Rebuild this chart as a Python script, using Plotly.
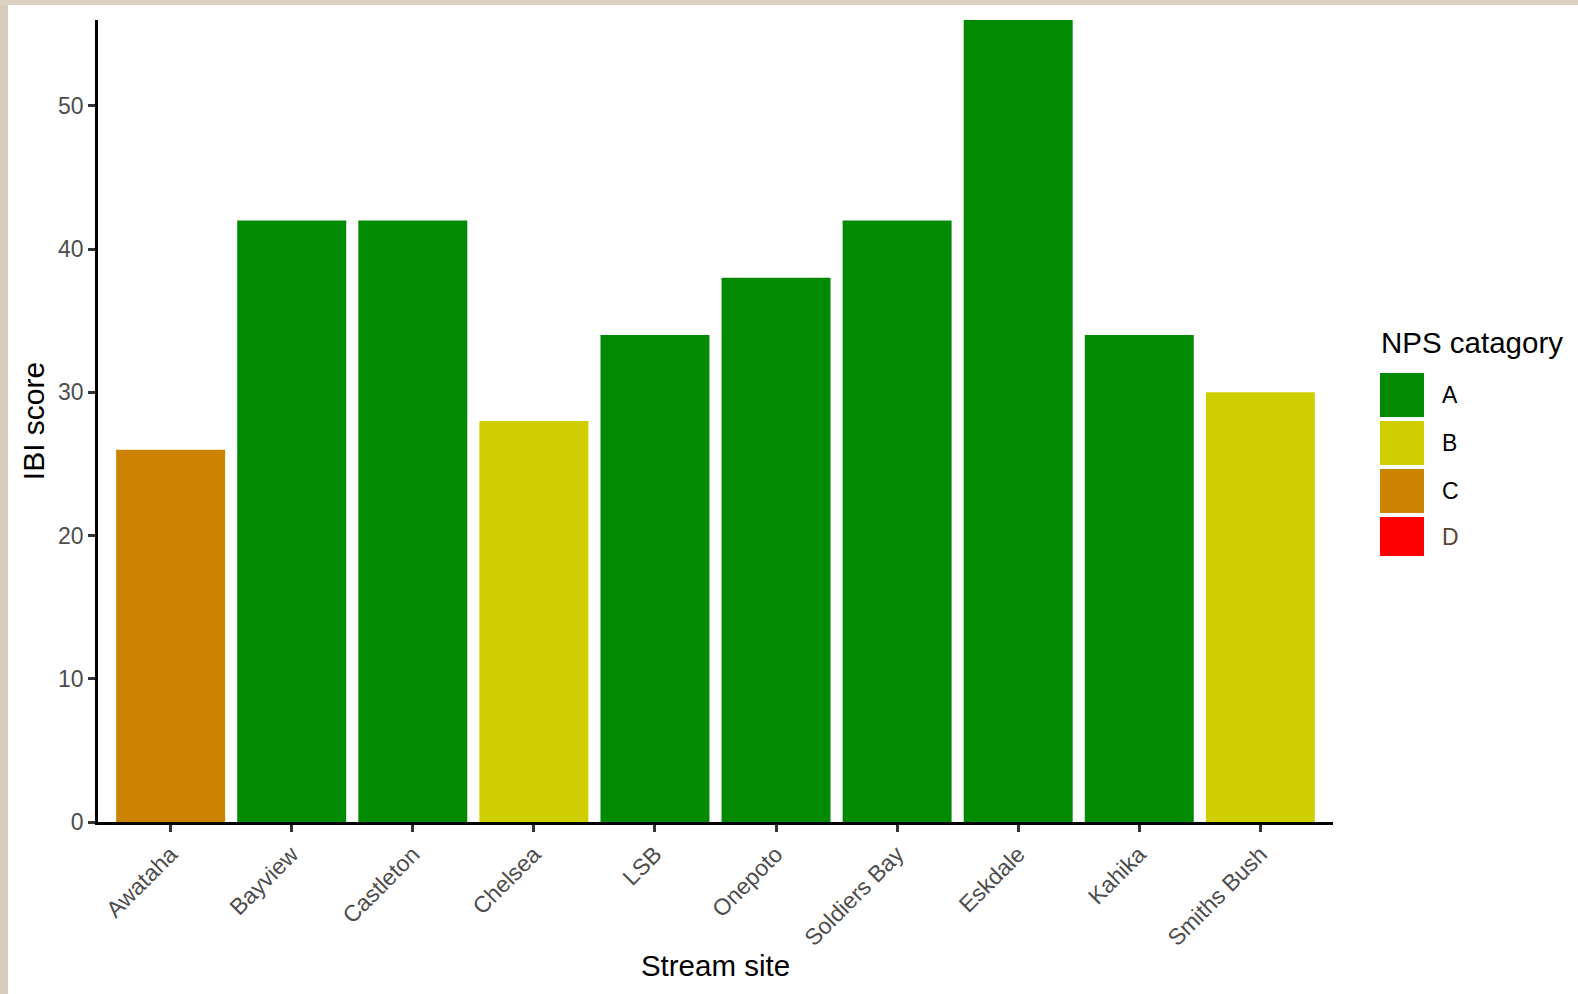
import plotly.graph_objects as go

sites = ["Awataha", "Bayview", "Castleton", "Chelsea", "LSB", "Onepoto",
         "Soldiers Bay", "Eskdale", "Kahika", "Smiths Bush"]
ibi_scores = [26, 42, 42, 28, 34, 38, 42, 56, 34, 30]
nps_category = ["C", "A", "A", "B", "A", "A", "A", "A", "A", "B"]
legend_levels = ["A", "B", "C", "D"]
level_colors = {"A": "#028A02", "B": "#CFCF00", "C": "#CC8400", "D": "#FF0000"}
y_ticks = [0, 10, 20, 30, 40, 50]

FONT = "Liberation Sans, Arial, sans-serif"
W, H = 1578, 994
L, R, T, B = 98, 245, 20, 172
PW = W - L - R
PH = H - T - B


def px(x):
    return (x - L) / PW


def py(y):
    return (H - B - y) / PH


fig = go.Figure()
fig.add_trace(go.Bar(
    x=sites, y=ibi_scores, width=0.9,
    marker=dict(color=[level_colors[c] for c in nps_category], line=dict(width=0)),
    showlegend=False,
))

shapes = []
annotations = []
# screenshot border
shapes.append(dict(type="rect", xref="paper", yref="paper", x0=px(0), x1=px(8),
                   y0=py(994), y1=py(0), fillcolor="#d8cdbb", line=dict(width=0), layer="above"))
shapes.append(dict(type="rect", xref="paper", yref="paper", x0=px(0), x1=px(1578),
                   y0=py(5), y1=py(0), fillcolor="#ddd2c2", line=dict(width=0), layer="above"))

# custom legend
annotations.append(dict(text="NPS catagory", xref="paper", yref="paper", x=px(1379), y=py(342),
                        xanchor="left", yanchor="middle", showarrow=False,
                        font=dict(family=FONT, size=29.5, color="#000000")))
for i, lvl in enumerate(legend_levels):
    top = 373 + 48 * i
    bot = top + 44 if lvl != "D" else top + 39
    shapes.append(dict(type="rect", xref="paper", yref="paper", x0=px(1380), x1=px(1424),
                       y0=py(bot), y1=py(top), fillcolor=level_colors[lvl],
                       line=dict(width=0), layer="above"))
    annotations.append(dict(text=lvl, xref="paper", yref="paper", x=px(1440), y=py((top + bot) / 2),
                            xanchor="left", yanchor="middle", showarrow=False,
                            font=dict(family=FONT, size=23,
                                      color="#5c4433" if lvl == "D" else "#000000")))

fig.update_layout(
    width=W, height=H,
    margin=dict(l=L, r=R, t=T, b=B, autoexpand=False),
    paper_bgcolor="white", plot_bgcolor="white",
    font=dict(family=FONT),
    shapes=shapes, annotations=annotations,
    bargap=0.1,
)
fig.update_xaxes(
    type="category", range=[-0.6, 9.6], tickangle=-45,
    showline=True, linecolor="#000000", linewidth=2.5,
    ticks="outside", ticklen=7, tickwidth=2.5, tickcolor="#333333",
    tickfont=dict(family=FONT, size=23, color="#4d4d4d"),
    showgrid=False, zeroline=False,
    title=dict(text="Stream site", font=dict(family=FONT, size=29.5, color="#000000"), standoff=6),
)
fig.update_yaxes(
    range=[0, 56], tickvals=y_ticks,
    showline=True, linecolor="#000000", linewidth=2.5,
    ticks="outside", ticklen=7, tickwidth=2.5, tickcolor="#333333",
    tickfont=dict(family=FONT, size=23, color="#4d4d4d"),
    showgrid=False, zeroline=False,
    title=dict(text="IBI score", font=dict(family=FONT, size=30, color="#000000"), standoff=5),
)

fig.write_html("out.html", config={"displayModeBar": False},
               post_script="document.body.style.margin='0';")
